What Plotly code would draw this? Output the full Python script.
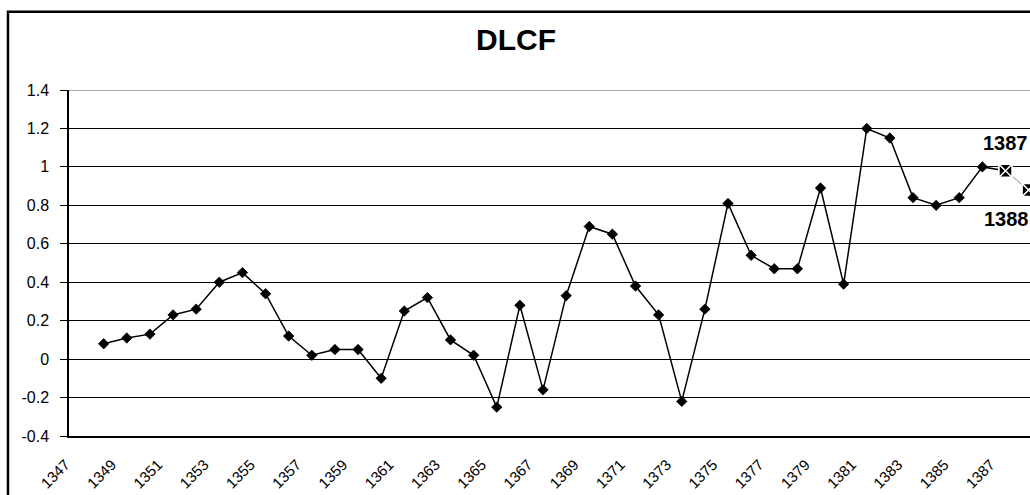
import plotly.graph_objects as go

# ---- data ----
years = list(range(1348, 1388))
dlcf = [0.08, 0.11, 0.13, 0.23, 0.26, 0.40, 0.45, 0.34, 0.12, 0.02,
        0.05, 0.05, -0.10, 0.25, 0.32, 0.10, 0.02, -0.25, 0.28, -0.16,
        0.33, 0.69, 0.65, 0.38, 0.23, -0.22, 0.26, 0.81, 0.54, 0.47,
        0.47, 0.89, 0.39, 1.20, 1.15, 0.84, 0.80, 0.84, 1.00, 0.98]
fc_years = [1387, 1388]
fc_vals = [0.98, 0.88]
tick_years = list(range(1347, 1388, 2))
tick_labels = [str(y) for y in tick_years]
y_ticks = [-0.4, -0.2, 0, 0.2, 0.4, 0.6, 0.8, 1, 1.2, 1.4]
y_labels = ["-0.4", "-0.2", "0", "0.2", "0.4", "0.6", "0.8", "1", "1.2", "1.4"]

FONT = "Arial, 'Liberation Sans', sans-serif"

n = len(years)
symbols = ["diamond"] * (n - 1) + ["square-x"]
lcolors = ["black"] * (n - 1) + ["white"]
lwidths = [0.8] * (n - 1) + [1.5]
sizes = [8] * (n - 1) + [13]

fig = go.Figure()
fig.add_trace(go.Scatter(
    x=years, y=dlcf, mode="lines+markers",
    line=dict(color="black", width=1.5),
    marker=dict(symbol=symbols, size=sizes, color="black", opacity=1,
                line=dict(color=lcolors, width=lwidths)),
    cliponaxis=False, showlegend=False))
fig.add_trace(go.Scatter(
    x=fc_years, y=fc_vals, mode="lines+markers",
    line=dict(color="#8c8c8c", width=1),
    marker=dict(symbol="square-x", size=13, color="black", opacity=1,
                line=dict(color="white", width=1.5)),
    cliponaxis=False, showlegend=False))

fig.add_annotation(x=fc_years[0], y=fc_vals[0], text="<b>1387</b>", showarrow=False,
                   xanchor="left", yanchor="middle", xshift=-24, yshift=28,
                   font=dict(family=FONT, size=20, color="black"))
fig.add_annotation(x=fc_years[0], y=fc_vals[0], text="<b>1388</b>", showarrow=False,
                   xanchor="left", yanchor="middle", xshift=-23, yshift=-48,
                   font=dict(family=FONT, size=20, color="black"))

# plot-area top border (gray) and outer chart frame
fig.add_shape(type="line", xref="paper", yref="y", x0=0, x1=1, y0=1.4, y1=1.4,
              line=dict(color="#8c8c8c", width=1.5), layer="above")
fig.add_shape(type="rect", xref="paper", yref="paper",
              x0=-0.0635, x1=1.2, y0=-0.4, y1=1.2265,
              line=dict(color="black", width=2.5), layer="above")

fig.update_layout(
    width=1030, height=495,
    margin=dict(l=69, r=0, t=90, b=59),
    paper_bgcolor="white", plot_bgcolor="white",
    font=dict(family=FONT, color="black"),
    title=dict(text="<b>DLCF</b>", x=0.501, xanchor="center",
               y=1 - 39 / 495, yanchor="middle", yref="container",
               font=dict(family=FONT, size=30, color="black")),
)
fig.update_xaxes(range=[1346.5, 1388.06], showgrid=False, zeroline=False,
                 showline=True, linecolor="black", linewidth=2,
                 tickmode="array", tickvals=tick_years, ticktext=tick_labels,
                 tickangle=-45, ticks="", ticklabelshift=-15, ticklabelstandoff=12,
                 tickfont=dict(family=FONT, size=15, color="black"))
fig.update_yaxes(range=[-0.4, 1.4], showgrid=True, gridcolor="black", gridwidth=1,
                 zeroline=False, showline=True, linecolor="black", linewidth=1.5,
                 tickmode="array", tickvals=y_ticks, ticktext=y_labels,
                 ticks="outside", ticklen=7, tickcolor="black", tickwidth=1,
                 ticklabelstandoff=8,
                 tickfont=dict(family=FONT, size=16, color="black"))

fig.write_html(
    "out.html",
    config={"displayModeBar": False},
    post_script="document.body.style.margin='0';document.body.style.overflow='hidden';"
                "document.documentElement.style.overflow='hidden';",
)
